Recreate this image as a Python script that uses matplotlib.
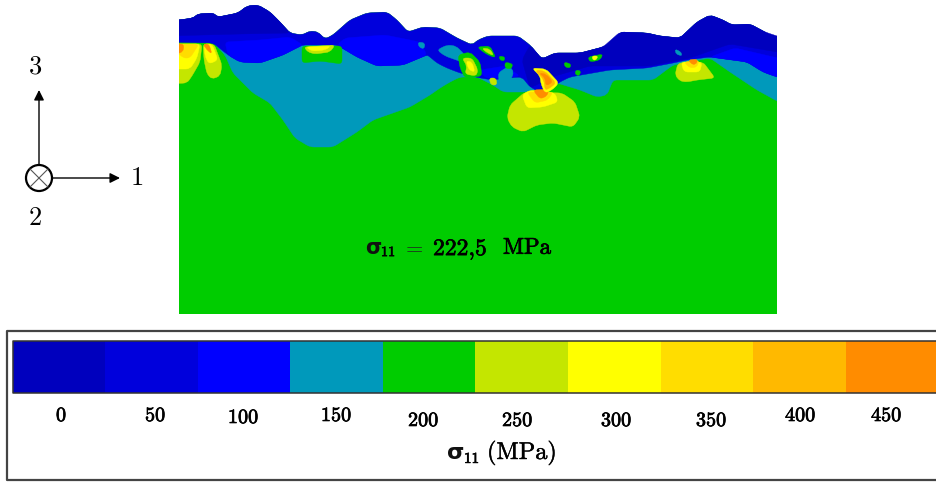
import matplotlib
matplotlib.use("Agg")
import matplotlib.pyplot as plt
import matplotlib.patheffects as pe
from matplotlib.path import Path
from matplotlib.patches import PathPatch, Rectangle

plt.rcParams['font.family'] = ['cmr10', 'DejaVu Serif']
plt.rcParams['axes.formatter.use_mathtext'] = True

# Legend
levels = [0, 50, 100, 150, 200, 250, 300, 350, 400, 450]
level_colors = ['#0000BE', '#0000DC', '#0000FF', '#0099BB', '#00CC00',
                '#C4E600', '#FFFF00', '#FFDD00', '#FFB900', '#FF8C00']
band_edges = [13, 105, 198, 290, 383, 475, 568, 661, 753, 846, 937]
tick_x = [61, 155, 243, 336, 423, 517, 616, 711, 800, 886]
tick_y = [416, 416, 418, 416, 421, 421, 421, 421, 416, 416]

# Specimen outline
domain_x = [179, 777]
domain_bottom = 314
surface = [(165, 20), (179, 20), (193, 18), (198, 14), (213, 13), (218, 17), (238, 13), (247, 6), (258, 5),
           (270, 12), (280, 22), (290, 33), (302, 35), (310, 31), (318, 32), (325, 39), (333, 35),
           (350, 20), (367, 13), (387, 12), (397, 20), (408, 32), (423, 27), (440, 28), (457, 38),
           (472, 45), (478, 40), (488, 36), (518, 36), (530, 45), (542, 59), (555, 53),
           (580, 53), (603, 47), (613, 44), (620, 32), (647, 33), (660, 36), (680, 38), (697, 22), (710, 15),
           (723, 20), (732, 25), (750, 24), (765, 32), (777, 42), (795, 42)]
blue_lower = [(795, 80), (777, 77), (763, 72), (747, 62), (710, 57), (687, 60), (673, 63), (647, 68), (610, 70),
              (570, 77), (558, 83), (547, 92), (540, 92), (530, 87), (522, 77), (505, 78), (493, 80), (480, 78),
              (460, 73), (447, 68), (437, 63), (430, 57), (427, 55), (403, 65), (377, 66), (357, 57),
              (337, 45), (303, 45), (298, 47), (283, 55), (260, 63), (240, 62), (228, 55), (213, 43),
              (165, 42)]
teal_lower = [(213, 42), (225, 55), (233, 73), (253, 93), (270, 103), (283, 120), (295, 138),
              (310, 147), (333, 147), (357, 132), (373, 120), (410, 107), (430, 95), (440, 88),
              (450, 82), (460, 77), (477, 77), (493, 85), (503, 92), (527, 92), (557, 83), (580, 90),
              (597, 97), (607, 95), (613, 80), (653, 80), (673, 65), (710, 58), (730, 72), (757, 90),
              (777, 101), (795, 108), (795, 60), (700, 45), (600, 62), (560, 68), (542, 64), (500, 50),
              (460, 50), (400, 45)]
bright_blue = [[(795, 80), (777, 77), (763, 72), (747, 62), (710, 57), (735, 48), (795, 62)],
               [(228, 55), (240, 62), (260, 63), (283, 55), (303, 45), (290, 37), (260, 40), (225, 42)],
               [(337, 45), (357, 57), (377, 66), (403, 65), (427, 55), (420, 42), (385, 35), (345, 38)],
               [(480, 70), (505, 66), (520, 76), (505, 78), (485, 78)]]
dark_upper = [(165, 20), (179, 20), (193, 18), (198, 14), (213, 13), (218, 17), (238, 13), (247, 6), (258, 5),
              (270, 12), (280, 22), (290, 33), (240, 34), (165, 36)]
dark_upper_2 = [(522, 60), (530, 45), (542, 59), (555, 53), (580, 53), (603, 47), (620, 32), (647, 33),
                (660, 36), (680, 38), (697, 22), (710, 15), (723, 20), (732, 25), (750, 24), (765, 32),
                (795, 42), (795, 55), (730, 44), (690, 58), (650, 66), (590, 66), (555, 76), (530, 88)]

blobs = [
    # left lobes
    (5, [(165, 44), (202, 44), (200, 62), (192, 76), (187, 83), (165, 84)]),
    (5, [(203, 44), (214, 44), (222, 65), (220, 76), (212, 79), (207, 74), (204, 60)]),
    (6, [(165, 44), (200, 44), (197, 58), (190, 69), (165, 69)]),
    (6, [(204, 44), (212, 44), (218, 60), (209, 64), (205, 56)]),
    (7, [(170, 44), (199, 44), (190, 58), (183, 58)]),
    (9, [(170, 44), (184, 44), (183, 52), (175, 54)]),
    (9, [(203, 44), (209, 44), (212, 54), (207, 50)]),
    # centre-left patch
    (4, [(302, 46), (342, 46), (342, 64), (320, 61), (302, 63)]),
    (5, [(304, 47), (335, 45), (330, 52), (315, 54), (308, 52)]),
    (6, [(306, 47), (331, 46), (325, 50), (312, 51)]),
    # scattered damage zone
    (3, [(418, 42), (425, 43), (424, 49), (419, 47)]),
    (3, [(437, 50), (447, 45), (456, 46), (465, 55), (462, 62), (445, 56)]),
    (4, [(458, 55), (470, 52), (480, 62), (482, 76), (465, 78), (460, 68)]),
    (5, [(462, 58), (472, 58), (478, 70), (476, 76), (465, 74), (467, 66)]),
    (6, [(466, 61), (472, 62), (475, 72), (469, 70)]),
    (4, [(477, 47), (490, 46), (496, 58), (486, 54)]),
    (5, [(482, 48), (490, 49), (494, 56), (486, 52)]),
    (4, [(499, 56), (505, 57), (504, 61), (500, 60)]),
    (3, [(498, 73), (509, 66), (514, 72), (508, 86), (500, 87)]),
    (4, [(505, 62), (513, 64), (511, 69), (505, 68)]),
    (5, [(489, 78), (496, 78), (497, 85), (491, 85)]),
    (4, [(564, 62), (571, 64), (570, 68), (565, 67)]),
    (4, [(576, 70), (581, 71), (579, 76), (575, 74)]),
    (4, [(588, 57), (603, 54), (600, 60), (590, 62)]),
    (6, [(592, 56), (598, 56), (596, 60), (593, 60)]),
    (3, [(675, 49), (681, 52), (682, 56), (676, 54)]),
    # large central spot
    (5, [(507, 118), (510, 105), (525, 92), (562, 93), (575, 102), (580, 117), (573, 127),
         (553, 123), (537, 125), (523, 132), (512, 127)]),
    (6, [(522, 95), (527, 108), (543, 107), (558, 102), (555, 93), (530, 90)]),
    (7, [(527, 92), (535, 103), (548, 100), (553, 92)]),
    (9, [(533, 90), (540, 99), (547, 96), (549, 89)]),
    # orange plume
    (6, [(532, 68), (546, 69), (559, 83), (552, 90), (545, 93), (541, 84), (540, 76)]),
    (8, [(535, 70), (545, 71), (556, 83), (550, 88), (545, 90), (544, 80)]),
    (9, [(539, 73), (546, 74), (553, 82), (546, 86), (545, 78)]),
    # right spot
    (5, [(675, 75), (678, 63), (703, 62), (715, 78), (697, 80), (687, 82), (680, 81)]),
    (6, [(681, 62), (684, 72), (700, 72), (702, 62)]),
    (7, [(684, 62), (690, 68), (697, 67), (699, 60)]),
    (9, [(688, 60), (693, 65), (697, 63), (697, 59)]),
]

axis_labels = ['1', '2', '3']

fig = plt.figure(figsize=(9.37, 4.83), dpi=100)
ax = fig.add_axes([0, 0, 1, 1])
ax.set_xlim(0, 937)
ax.set_ylim(483, 0)
ax.axis('off')

clip = Rectangle((domain_x[0], 0), domain_x[1] - domain_x[0], domain_bottom, transform=ax.transData)


def toward(p, q, r):
    dx, dy = q[0] - p[0], q[1] - p[1]
    d = max((dx * dx + dy * dy) ** 0.5, 1e-6)
    t = min(r, 0.4 * d) / d
    return (p[0] + t * dx, p[1] + t * dy)


def poly(pts, color, z, radius=4):
    """Closed region whose corners are eased a few pixels, as in the soft contour plot."""
    n = len(pts)
    verts, codes = [], []
    for i in range(n):
        p, a, b = pts[i], pts[i - 1], pts[(i + 1) % n]
        verts += [toward(p, a, radius), p, toward(p, b, radius)]
        codes += [Path.MOVETO if i == 0 else Path.LINETO, Path.CURVE3, Path.CURVE3]
    verts.append(verts[0])
    codes.append(Path.LINETO)
    patch = PathPatch(Path(verts, codes), fc=color, ec=color, lw=0.3, zorder=z)
    ax.add_patch(patch)
    patch.set_clip_path(clip)


full = surface + [(795, 330), (165, 330)]
poly(full, level_colors[4], 1)
poly(teal_lower, level_colors[3], 2)
poly(surface + blue_lower, level_colors[1], 3)
poly(dark_upper, level_colors[0], 4)
poly(dark_upper_2, level_colors[0], 4)
for b in bright_blue:
    poly(b, level_colors[2], 4)
for i, (lvl, pts) in enumerate(blobs):
    poly(pts, level_colors[lvl], 5 + i * 0.01)

bold = [pe.withStroke(linewidth=0.5, foreground='black')]
SANS = ['DejaVu Sans']


def sigma_label(x, y, size, sub_x, sub_dy):
    ax.text(x, y, '\u03c3', family=SANS, weight='bold', ha='left', va='center', fontsize=size,
            color='#111111', zorder=10)
    ax.text(sub_x, y + sub_dy, '11', ha='left', va='center', fontsize=size * 0.68, path_effects=bold, zorder=10)


sigma_label(365, 248, 15, 381, 5)
ax.text(414, 249, '=', ha='center', va='center', fontsize=16, color='#222222', zorder=10)
ax.text(433, 249, '222,5', ha='left', va='center', fontsize=17, path_effects=bold, zorder=10)
ax.text(503, 248, 'MPa', ha='left', va='center', fontsize=16.5, path_effects=bold, zorder=10)

# Axis triad
arrow = dict(arrowstyle='-|>,head_length=0.6,head_width=0.3', color='black', lw=1.0,
             shrinkA=0, shrinkB=0)
ax.annotate('', xy=(39, 90), xytext=(39, 178), arrowprops=arrow)
ax.annotate('', xy=(120, 178), xytext=(39, 178), arrowprops=arrow)
ax.add_patch(plt.Circle((39, 178), 13, fill=True, fc='white', ec='black', lw=1.6, zorder=3))
ax.plot([30, 48], [169, 187], color='#555555', lw=0.8, zorder=4)
ax.plot([30, 48], [187, 169], color='#555555', lw=0.8, zorder=4)
ax.text(137, 178, axis_labels[0], ha='center', va='center', fontsize=19)
ax.text(35, 218, axis_labels[1], ha='center', va='center', fontsize=19)
ax.text(36, 67, axis_labels[2], ha='center', va='center', fontsize=19)

# Legend box
ax.plot([937, 7, 7, 937], [331, 331, 480, 480], color='#444444', lw=1.6, zorder=1)
for i, c in enumerate(level_colors):
    ax.fill_between([band_edges[i], band_edges[i + 1]], 341, 393, color=c, lw=0, zorder=2)
ax.plot([937, 13, 13, 937], [341, 341, 393, 393], color='#333333', lw=1.1, zorder=3)
for x, y, v in zip(tick_x, tick_y, levels):
    ax.text(x, y, str(v), ha='center', va='center', fontsize=14.5, path_effects=bold)
sigma_label(447, 453, 16, 464, 6)
ax.text(487, 453, '(MPa)', ha='left', va='center', fontsize=17.5,
        path_effects=[pe.withStroke(linewidth=0.3, foreground='black')])

fig.savefig('out.png', dpi=100)
